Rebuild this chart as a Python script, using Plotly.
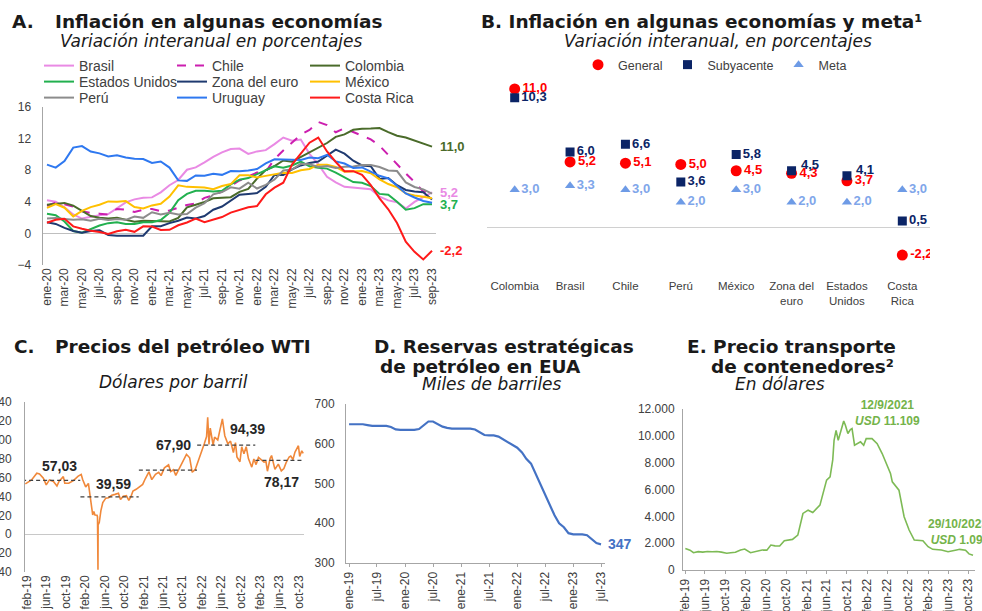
import plotly.graph_objects as go

W, H = 982, 611
FUENTE = "Liberation Sans, Arial, sans-serif"
FUENTE_TIT = "DejaVu Sans, Liberation Sans, sans-serif"
GRIS = "#404040"

# ---- A. Inflacion en algunas economias (mensual, ene-20 a sep-23)
meses_a = ["ene-20", "feb-20", "mar-20", "abr-20", "may-20", "jun-20", "jul-20", "ago-20", "sep-20", "oct-20", "nov-20", "dic-20",
           "ene-21", "feb-21", "mar-21", "abr-21", "may-21", "jun-21", "jul-21", "ago-21", "sep-21", "oct-21", "nov-21", "dic-21",
           "ene-22", "feb-22", "mar-22", "abr-22", "may-22", "jun-22", "jul-22", "ago-22", "sep-22", "oct-22", "nov-22", "dic-22",
           "ene-23", "feb-23", "mar-23", "abr-23", "may-23", "jun-23", "jul-23", "ago-23", "sep-23"]
brasil = [4.19, 4.01, 3.30, 2.40, 1.88, 2.13, 2.31, 2.44, 3.14, 3.92, 4.31, 4.52, 4.56, 5.20, 6.10, 6.76, 8.06, 8.35, 8.99, 9.68, 10.25, 10.67, 10.74, 10.06,
          10.38, 10.54, 11.30, 12.13, 11.73, 11.89, 10.07, 8.73, 7.17, 6.47, 5.90, 5.79, 5.77, 5.60, 4.65, 4.18, 3.94, 3.16, 3.99, 4.61, 5.19]
chile = [3.5, 3.9, 3.7, 3.4, 2.8, 2.6, 2.5, 2.4, 3.1, 3.0, 2.7, 3.0, 3.1, 2.8, 2.9, 3.3, 3.6, 3.8, 4.5, 4.8, 5.3, 6.0, 6.7, 7.2,
         7.7, 7.8, 9.4, 10.5, 11.5, 12.5, 13.1, 14.1, 13.7, 12.8, 13.3, 12.8, 12.3, 11.9, 11.1, 9.9, 8.7, 7.6, 6.5, 5.3, 5.1]
colombia = [3.62, 3.72, 3.86, 3.51, 2.85, 2.19, 1.97, 1.88, 1.97, 1.75, 1.49, 1.61, 1.60, 1.56, 1.51, 1.95, 3.30, 3.63, 3.97, 4.44, 4.51, 4.58, 5.26, 5.62,
            6.94, 8.01, 8.53, 9.23, 9.07, 9.67, 10.21, 10.84, 11.44, 12.22, 12.53, 13.12, 13.25, 13.28, 13.34, 12.82, 12.36, 12.13, 11.78, 11.43, 10.99]
eeuu = [2.5, 2.3, 1.5, 0.3, 0.1, 0.6, 1.0, 1.3, 1.4, 1.2, 1.2, 1.4, 1.4, 1.7, 2.6, 4.2, 5.0, 5.4, 5.4, 5.3, 5.4, 6.2, 6.8, 7.0,
        7.5, 7.9, 8.5, 8.3, 8.6, 9.1, 8.5, 8.3, 8.2, 7.7, 7.1, 6.5, 6.4, 6.0, 5.0, 4.9, 4.0, 3.0, 3.2, 3.7, 3.7]
zona_euro = [1.4, 1.2, 0.7, 0.3, 0.1, 0.3, 0.4, -0.2, -0.3, -0.3, -0.3, -0.3, 0.9, 0.9, 1.3, 1.6, 2.0, 1.9, 2.2, 3.0, 3.4, 4.1, 4.9, 5.0,
             5.1, 5.9, 7.4, 7.4, 8.1, 8.6, 8.9, 9.1, 9.9, 10.6, 10.1, 9.2, 8.6, 8.5, 6.9, 7.0, 6.1, 5.5, 5.3, 5.2, 4.3]
mexico = [3.24, 3.70, 3.25, 2.15, 2.84, 3.33, 3.62, 4.05, 4.01, 4.09, 3.33, 3.15, 3.54, 3.76, 4.67, 6.08, 5.89, 5.88, 5.81, 5.59, 6.00, 6.24, 7.37, 7.36,
          7.07, 7.28, 7.45, 7.68, 7.65, 7.99, 8.15, 8.70, 8.70, 8.41, 7.80, 7.82, 7.91, 7.62, 6.85, 6.25, 5.84, 5.06, 4.79, 4.64, 4.45]
peru = [1.88, 1.94, 1.82, 1.72, 1.78, 1.60, 1.86, 1.69, 1.82, 1.72, 2.14, 1.97, 2.68, 2.40, 2.60, 2.38, 2.45, 3.25, 3.81, 4.95, 5.23, 5.83, 5.66, 6.43,
        5.68, 6.15, 6.82, 7.96, 8.09, 8.81, 8.74, 8.40, 8.53, 8.28, 8.45, 8.46, 8.66, 8.65, 8.40, 7.97, 7.89, 6.46, 5.88, 5.58, 5.04]
uruguay = [8.71, 8.32, 9.16, 10.86, 11.05, 10.36, 10.13, 9.75, 9.90, 9.62, 9.46, 9.41, 8.91, 9.10, 8.33, 6.71, 6.65, 7.33, 7.30, 7.56, 7.41, 7.89, 7.87, 7.96,
           8.15, 8.87, 9.38, 9.37, 9.37, 9.30, 9.60, 9.52, 9.95, 9.11, 8.84, 8.29, 8.35, 7.81, 7.29, 6.97, 6.04, 5.05, 4.54, 4.10, 3.89]
costa_rica = [1.35, 1.72, 1.85, 0.89, 0.60, 0.34, 0.18, -0.07, 0.28, 0.45, 0.20, 0.89, 0.88, 0.43, 0.45, 1.03, 1.38, 1.88, 1.43, 1.80, 2.07, 2.63, 3.01, 3.30,
              3.46, 4.95, 5.79, 6.42, 8.71, 10.06, 11.48, 12.13, 10.37, 9.04, 7.88, 7.88, 7.41, 6.12, 4.44, 3.05, 1.32, -1.05, -2.33, -3.30, -2.20]

# ---- B. Inflacion general, subyacente y meta
paises_b = ["Colombia", "Brasil", "Chile", "Perú", "México", "Zona del euro", "Estados Unidos", "Costa Rica"]
etiquetas_b = ["Colombia", "Brasil", "Chile", "Perú", "México", "Zona del<br>euro", "Estados<br>Unidos", "Costa<br>Rica"]
general = [11.0, 5.2, 5.1, 5.0, 4.5, 4.3, 3.7, -2.2]
subyacente = [10.3, 6.0, 6.6, 3.6, 5.8, 4.5, 4.1, 0.5]
meta = [3.0, 3.3, 3.0, 2.0, 3.0, 2.0, 2.0, 3.0]

# ---- C. Precio del petroleo WTI (dolares por barril)
fechas_wti = ["2019-01-21", "2019-03-01", "2019-04-03", "2019-04-20", "2019-05-14", "2019-06-01", "2019-06-21", "2019-07-16", "2019-08-07",
              "2019-08-20", "2019-09-16", "2019-09-25", "2019-10-20", "2019-11-18", "2019-12-18", "2020-01-06", "2020-01-15", "2020-02-03",
              "2020-02-20", "2020-02-28", "2020-03-09", "2020-03-18", "2020-03-25", "2020-04-01", "2020-04-14", "2020-04-17", "2020-04-20",
              "2020-04-21", "2020-04-28", "2020-05-08", "2020-05-20", "2020-06-08", "2020-06-25", "2020-07-15", "2020-08-05", "2020-08-26",
              "2020-09-08", "2020-09-25", "2020-10-15", "2020-10-30", "2020-11-13", "2020-11-25", "2020-12-15", "2021-01-06", "2021-01-25",
              "2021-02-10", "2021-03-05", "2021-03-23", "2021-04-15", "2021-05-05", "2021-05-20", "2021-06-10", "2021-07-06", "2021-07-19",
              "2021-08-06", "2021-08-20", "2021-09-10", "2021-09-28", "2021-10-15", "2021-10-26", "2021-11-15", "2021-12-01", "2021-12-20",
              "2022-01-10", "2022-01-25", "2022-02-14", "2022-03-01", "2022-03-08", "2022-03-16", "2022-03-24", "2022-04-11", "2022-04-20",
              "2022-05-10", "2022-05-27", "2022-06-08", "2022-06-23", "2022-07-05", "2022-07-12", "2022-07-29", "2022-08-16", "2022-08-29",
              "2022-09-07", "2022-09-26", "2022-10-07", "2022-10-21", "2022-11-04", "2022-11-18", "2022-12-09", "2022-12-22", "2023-01-05",
              "2023-01-20", "2023-02-08", "2023-02-24", "2023-03-08", "2023-03-17", "2023-04-03", "2023-04-12", "2023-05-03", "2023-05-24",
              "2023-06-12", "2023-06-28", "2023-07-12", "2023-07-31", "2023-08-10", "2023-08-24", "2023-09-05", "2023-09-27", "2023-10-05",
              "2023-10-18", "2023-10-27"]
wti = [53.3, 57.5, 64.6, 63.9, 59.3, 52.2, 57.5, 55.8, 51.1,
       56.0, 61.0, 54.0, 54.0, 56.8, 61.5, 63.2, 58.0, 50.1,
       53.8, 45.0, 31.1, 20.4, 24.0, 20.3, 20.1, 18.3, -37.6,
       10.0, 12.3, 24.7, 33.5, 38.2, 38.7, 41.2, 42.2, 43.4,
       36.8, 40.2, 40.9, 35.8, 40.1, 45.7, 47.6, 50.6, 52.8,
       58.7, 66.1, 57.8, 63.5, 65.6, 62.1, 70.3, 73.4, 66.4,
       68.3, 62.3, 69.7, 75.3, 82.3, 84.6, 80.9, 65.6, 68.6,
       78.2, 85.6, 95.5, 103.4, 123.7, 95.0, 112.3, 94.3, 102.8,
       99.8, 115.1, 122.1, 104.3, 99.5, 95.8, 98.6, 86.5, 97.0,
       81.9, 76.7, 92.6, 85.1, 92.6, 80.1, 71.0, 79.6, 73.7,
       81.3, 78.5, 76.3, 76.7, 66.7, 80.4, 83.3, 68.6, 74.3,
       67.1, 69.6, 75.8, 81.8, 82.8, 79.1, 86.7, 93.7, 82.3,
       88.3, 85.5]
anio_ini = ["2019-01-01", "2020-01-01", "2021-01-01", "2022-01-01", "2023-01-01"]
anio_fin = ["2019-12-31", "2020-12-31", "2021-12-31", "2022-12-31", "2023-10-31"]
promedio_anual = [57.03, 39.59, 67.90, 94.39, 78.17]
ticks_c = ["2019-02-01", "2019-06-01", "2019-10-01", "2020-02-01", "2020-06-01", "2020-10-01", "2021-02-01", "2021-06-01",
           "2021-10-01", "2022-02-01", "2022-06-01", "2022-10-01", "2023-02-01", "2023-06-01", "2023-10-01"]
etiq_c = ["feb-19", "jun-19", "oct-19", "feb-20", "jun-20", "oct-20", "feb-21", "jun-21",
          "oct-21", "feb-22", "jun-22", "oct-22", "feb-23", "jun-23", "oct-23"]

# ---- D. Reservas estrategicas de petroleo (miles de barriles), mensual ene-19 a jul-23
fechas_spr = ["2019-01-01", "2019-02-01", "2019-03-01", "2019-04-01", "2019-05-01", "2019-06-01", "2019-07-01", "2019-08-01", "2019-09-01",
              "2019-10-01", "2019-11-01", "2019-12-01", "2020-01-01", "2020-02-01", "2020-03-01", "2020-04-01", "2020-05-01", "2020-06-01",
              "2020-07-01", "2020-08-01", "2020-09-01", "2020-10-01", "2020-11-01", "2020-12-01", "2021-01-01", "2021-02-01", "2021-03-01",
              "2021-04-01", "2021-05-01", "2021-06-01", "2021-07-01", "2021-08-01", "2021-09-01", "2021-10-01", "2021-11-01", "2021-12-01",
              "2022-01-01", "2022-02-01", "2022-03-01", "2022-04-01", "2022-05-01", "2022-06-01", "2022-07-01", "2022-08-01", "2022-09-01",
              "2022-10-01", "2022-11-01", "2022-12-01", "2023-01-01", "2023-02-01", "2023-03-01", "2023-04-01", "2023-05-01", "2023-06-01",
              "2023-07-01"]
spr = [649, 649, 649, 649, 647, 645, 645, 645, 645, 642, 636, 635,
       635, 635, 635, 637, 646, 656, 656, 650, 643, 640, 638, 638,
       638, 638, 638, 636, 630, 622, 621, 621, 618, 611, 603, 596,
       590, 578, 562, 550, 525, 495, 470, 448, 420, 400, 390, 375,
       372, 372, 372, 370, 360, 350, 347]
ticks_d = ["2019-01-01", "2019-07-01", "2020-01-01", "2020-07-01", "2021-01-01", "2021-07-01", "2022-01-01", "2022-07-01", "2023-01-01", "2023-07-01"]
etiq_d = ["ene-19", "jul-19", "ene-20", "jul-20", "ene-21", "jul-21", "ene-22", "jul-22", "ene-23", "jul-23"]

# ---- E. Precio transporte de contenedores (dolares)
fechas_wci = ["2019-02-03", "2019-03-03", "2019-03-24", "2019-04-21", "2019-05-19", "2019-06-16", "2019-07-14", "2019-08-11", "2019-09-08",
              "2019-10-10", "2019-11-03", "2019-12-01", "2020-01-01", "2020-01-26", "2020-03-01", "2020-04-12", "2020-05-10", "2020-06-07",
              "2020-07-01", "2020-07-26", "2020-08-23", "2020-09-20", "2020-10-18", "2020-11-08", "2020-12-10", "2021-01-10", "2021-02-10",
              "2021-03-10", "2021-04-22", "2021-05-12", "2021-06-01", "2021-06-22", "2021-07-08", "2021-07-16", "2021-07-28", "2021-08-10",
              "2021-08-26", "2021-09-12", "2021-09-22", "2021-10-07", "2021-10-22", "2021-11-01", "2021-11-16", "2021-12-22", "2022-01-10",
              "2022-01-25", "2022-03-01", "2022-04-01", "2022-05-01", "2022-06-01", "2022-06-20", "2022-07-01", "2022-08-10", "2022-09-10",
              "2022-10-10", "2022-11-10", "2023-01-01", "2023-02-01", "2023-03-01", "2023-04-22", "2023-06-01", "2023-07-22", "2023-08-10",
              "2023-09-14", "2023-10-05", "2023-10-29"]
wci = [1610, 1480, 1290, 1370, 1330, 1380, 1360, 1380, 1330,
       1250, 1290, 1320, 1490, 1560, 1290, 1440, 1490, 1480,
       1860, 1800, 1790, 2180, 2230, 2280, 2600, 4215, 4460,
       4290, 4835, 5800, 6700, 6940, 8200, 9670, 10410, 9670,
       10300, 11109, 10790, 10170, 10460, 10540, 9300, 9550, 9300,
       9790, 9790, 9420, 8680, 7690, 7200, 6570, 5950, 3970,
       2980, 2230, 2180, 1740, 1540, 1490, 1360, 1490, 1540,
       1480, 1200, 1095]
ticks_e = ticks_c
etiq_e = etiq_c


def px(x):
    return x / W


def py(y):
    return 1 - y / H


fig = go.Figure()

# A: lineas por pais, tres filas de leyenda
series_a = [
    ("Brasil", brasil, "#E98AE4", "solid", "legend"),
    ("Chile", chile, "#CC1FAF", "dash", "legend"),
    ("Colombia", colombia, "#4A6B2A", "solid", "legend"),
    ("Estados Unidos", eeuu, "#22B04F", "solid", "legend2"),
    ("Zona del euro", zona_euro, "#1F3A70", "solid", "legend2"),
    ("México", mexico, "#FFC000", "solid", "legend2"),
    ("Perú", peru, "#8C8C8C", "solid", "legend3"),
    ("Uruguay", uruguay, "#2E78F0", "solid", "legend3"),
    ("Costa Rica", costa_rica, "#FF1A1A", "solid", "legend3"),
]
for nombre, datos, color, estilo, ley in series_a:
    fig.add_trace(go.Scatter(x=meses_a, y=datos, name=nombre, mode="lines",
                             line=dict(color=color, width=2, dash=estilo),
                             legend=ley, xaxis="x", yaxis="y"))

# B: marcadores
# las etiquetas subyacentes de zona del euro y EEUU se suben un poco (van como anotacion)
sube_b = [False, False, False, False, False, True, True, False]
fig.add_trace(go.Scatter(x=paises_b, y=general, name="General", mode="markers+text",
                         marker=dict(symbol="circle", size=11, color="#FF0000"),
                         texttemplate="%{y:.1f}", textposition="middle right",
                         textfont=dict(family=FUENTE, size=13, color="#FF0000", weight="bold"),
                         legend="legend4", xaxis="x2", yaxis="y2"))
fig.add_trace(go.Scatter(x=paises_b, y=subyacente, name="Subyacente", mode="markers+text",
                         marker=dict(symbol="square", size=9, color="#0B2466"),
                         texttemplate=["" if s else "%{y:.1f}" for s in sube_b], textposition="middle right",
                         textfont=dict(family=FUENTE, size=13, color="#0B2466", weight="bold"),
                         legend="legend4", xaxis="x2", yaxis="y2"))
fig.add_trace(go.Scatter(x=paises_b, y=meta, name="Meta", mode="markers+text",
                         marker=dict(symbol="triangle-up", size=9, color="#6E9BE6"),
                         texttemplate="%{y:.1f}", textposition="middle right",
                         textfont=dict(family=FUENTE, size=13, color="#7FA6EA", weight="bold"),
                         legend="legend4", xaxis="x2", yaxis="y2"))

# C: WTI y promedios anuales
fig.add_trace(go.Scatter(x=fechas_wti, y=wti, mode="lines", line=dict(color="#F0883A", width=1.6),
                         showlegend=False, xaxis="x3", yaxis="y3"))
px_prom, py_prom = [], []
for ini, fin, v in zip(anio_ini, anio_fin, promedio_anual):
    px_prom += [ini, fin, None]
    py_prom += [v, v, None]
fig.add_trace(go.Scatter(x=px_prom, y=py_prom, mode="lines", line=dict(color="#404040", width=1.2, dash="4px,3px"),
                         showlegend=False, xaxis="x3", yaxis="y3"))

# D: SPR
fig.add_trace(go.Scatter(x=fechas_spr, y=spr, mode="lines", line=dict(color="#4472C4", width=2.2),
                         showlegend=False, xaxis="x4", yaxis="y4"))

# E: contenedores
fig.add_trace(go.Scatter(x=fechas_wci, y=wci, mode="lines", line=dict(color="#7DBA55", width=1.6),
                         showlegend=False, xaxis="x5", yaxis="y5"))

tf = dict(family=FUENTE, size=12, color=GRIS)
tfx = dict(family=FUENTE, size=12, color=GRIS)
eje = dict(showgrid=False, automargin=False, tickfont=tf, linecolor="#A6A6A6", zeroline=False)

fig.update_layout(
    width=W, height=H, template="none", separators=",.",
    margin=dict(l=0, r=0, t=0, b=0), paper_bgcolor="white", plot_bgcolor="white",
    font=dict(family=FUENTE, color=GRIS), hovermode=False,
    xaxis=dict(eje, type="category", categoryarray=meses_a, range=[-0.5, 44.5], tickvals=meses_a[::2],
               tickangle=-90, showline=False, ticks="", domain=[px(42.6), px(436.4)], anchor="y"),
    yaxis=dict(eje, range=[-4, 16], dtick=4, showline=True, zeroline=True, zerolinecolor="#BFBFBF",
               zerolinewidth=1, ticks="", ticklabelstandoff=8, domain=[py(265), py(107)], anchor="x"),
    xaxis2=dict(eje, type="category", range=[-0.5, 7.5], tickvals=paises_b, ticktext=etiquetas_b,
                tickfont=dict(family=FUENTE, size=11.5, color=GRIS), showline=False, ticks="",
                domain=[px(487), px(930)], anchor="y2"),
    yaxis2=dict(eje, range=[-4, 12], showticklabels=False, showline=False, zeroline=True,
                zerolinecolor="#D0D0D0", zerolinewidth=1, domain=[py(277.7), py(76.4)], anchor="x2"),
    xaxis3=dict(eje, type="date", range=["2019-01-19", "2023-11-01"], tickvals=ticks_c, ticktext=etiq_c,
                tickangle=-90, showline=False, ticks="", tickfont=tfx,
                domain=[px(25), px(304)], anchor="y3"),
    yaxis3=dict(eje, range=[-40, 140], dtick=20, showline=True, zeroline=True, zerolinecolor="#C8C8C8",
                ticks="", ticklabelstandoff=10, domain=[py(572), py(402)], anchor="x3"),
    xaxis4=dict(eje, type="date", range=["2018-12-12", "2023-07-27"], tickvals=ticks_d, ticktext=etiq_d,
                tickangle=-90, showline=True, ticks="outside", ticklen=3, tickcolor="#A6A6A6",
                tickfont=tfx, domain=[px(346), px(605)], anchor="y4"),
    yaxis4=dict(eje, range=[300, 700], dtick=100, showline=True, ticks="", ticklabelstandoff=8,
                domain=[py(563), py(404)], anchor="x4"),
    xaxis5=dict(eje, type="date", range=["2019-01-20", "2023-11-10"], tickvals=ticks_e, ticktext=etiq_e,
                tickangle=-90, showline=True, ticks="outside", ticklen=3, tickcolor="#A6A6A6",
                tickfont=tfx, domain=[px(683), px(975)], anchor="y5"),
    yaxis5=dict(eje, range=[0, 12000], dtick=2000, tickformat=",.0f", showline=True, ticks="",
                ticklabelstandoff=5, domain=[py(570), py(409)], anchor="x5"),
)

ley_a = dict(orientation="h", xanchor="left", yanchor="middle", entrywidth=88, entrywidthmode="pixels",
             itemwidth=30, font=dict(family=FUENTE, size=14, color=GRIS), bgcolor="rgba(0,0,0,0)", traceorder="normal")
fig.update_layout(
    legend=dict(ley_a, x=px(39), y=py(66)),
    legend2=dict(ley_a, x=px(39), y=py(82)),
    legend3=dict(ley_a, x=px(39), y=py(98)),
    legend4=dict(orientation="h", xanchor="center", yanchor="middle", x=px(715), y=py(65),
                 font=dict(family=FUENTE, size=12.5, color=GRIS), bgcolor="rgba(0,0,0,0)"),
)


def texto(t, x, y, size, color="#1A1A1A", xanchor="left", fam=FUENTE_TIT):
    return dict(text=t, x=px(x), y=py(y), xref="paper", yref="paper", xanchor=xanchor, yanchor="middle",
                showarrow=False, font=dict(family=fam, size=size, color=color))


T, S = 18.5, 17
anot = [
    texto("<b>A.</b>", 10, 22, T), texto("<b>Inflación en algunas economías</b>", 53, 22, T),
    texto("<i>Variación interanual en porcentajes</i>", 58, 41, S),
    texto("<b>B. Inflación en algunas economías y meta¹</b>", 479, 22, T),
    texto("<i>Variación interanual, en porcentajes</i>", 562, 41, S),
    texto("<b>C.</b>", 12, 346, T), texto("<b>Precios del petróleo WTI</b>", 53, 346, T),
    texto("<i>Dólares por barril</i>", 97, 382, S),
    texto("<b>D. Reservas estratégicas</b>", 372, 346, T),
    texto("<b>de petróleo en EUA</b>", 378, 366, T),
    texto("<i>Miles de barriles</i>", 420, 384, S),
    texto("<b>E. Precio transporte</b>", 685, 346, T),
    texto("<b>de contenedores²</b>", 709, 366, T),
    texto("<i>En dólares</i>", 733, 384, S),
    texto("<b>12/9/2021<br><i>USD</i> 11.109</b>", 887, 413, 12, "#74B34A", "center", FUENTE),
    texto("<b>29/10/2023;<br><i>USD</i> 1.095</b>", 926, 532, 12, "#74B34A", "left", FUENTE),
]

# etiquetas subyacente levantadas en B
for pais, v, s in zip(paises_b, subyacente, sube_b):
    if s:
        anot.append(dict(x=pais, y=v, xref="x2", yref="y2", text="<b>%s</b>" % ("%.1f" % v).replace(".", ","),
                         xanchor="left", yanchor="middle", xshift=7, yshift=6, showarrow=False,
                         font=dict(family=FUENTE, size=13, color="#0B2466")))

# etiquetas de ultimo valor en A
for serie, color in [(colombia, "#4A6B2A"), (brasil, "#E98AE4"), (eeuu, "#22B04F"), (costa_rica, "#FF1A1A")]:
    anot.append(dict(x=meses_a[-1], y=serie[-1], xref="x", yref="y", text="<b>%s</b>" % ("%.1f" % serie[-1]).replace(".", ","),
                     xanchor="left", yanchor="middle", xshift=6, showarrow=False,
                     font=dict(family=FUENTE, size=13, color=color)))

# promedios anuales en C
pos_prom = [("2019-08-25", 14), ("2020-07-23", 13), ("2021-08-03", 25), ("2022-11-15", 16), ("2023-06-10", -22)]
for (fx, sh), v in zip(pos_prom, promedio_anual):
    anot.append(dict(x=fx, y=v, xref="x3", yref="y3", text="<b>%s</b>" % ("%.2f" % v).replace(".", ","),
                     yshift=sh, showarrow=False, font=dict(family=FUENTE, size=14, color="#262626")))

# ultimo dato D
anot.append(dict(x=fechas_spr[-1], y=spr[-1], xref="x4", yref="y4", text="<b>%d</b>" % spr[-1],
                 xanchor="left", yanchor="middle", xshift=5, showarrow=False,
                 font=dict(family=FUENTE, size=14, color="#4472C4")))

fig.update_layout(annotations=anot)
fig.write_html("out.html", config={"displayModeBar": False},
               post_script="document.body.style.margin='0';")
